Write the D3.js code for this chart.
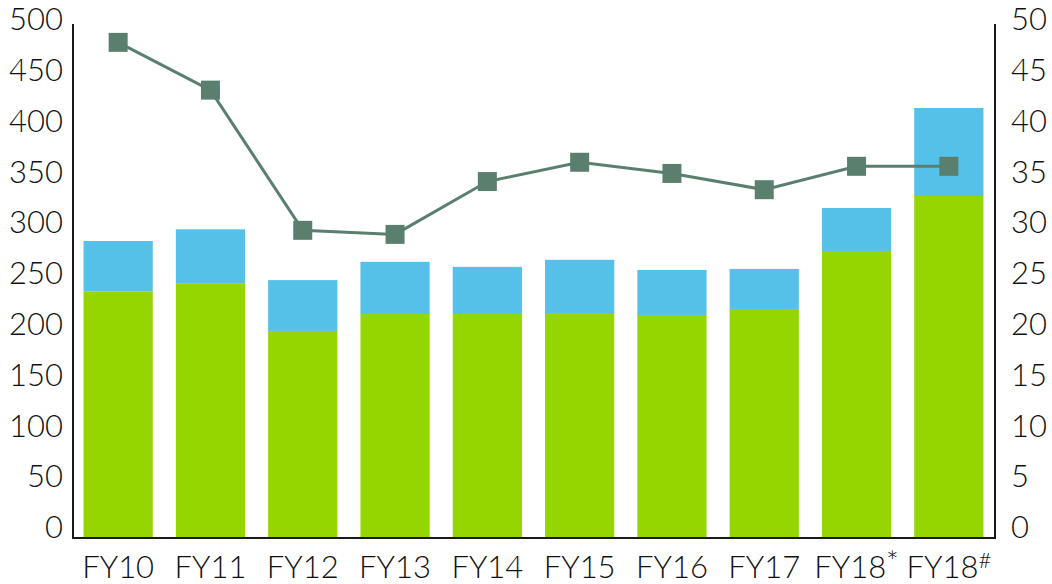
<!DOCTYPE html>
<html>
<head>
<meta charset="utf-8">
<script src="https://cdn.jsdelivr.net/npm/d3@7"></script>
<style>
  html, body { margin: 0; padding: 0; background: #fff; }
  svg { display: block; }
  text { font-family: Lato, "Open Sans", sans-serif; font-weight: 300; fill: #111; }
</style>
</head>
<body>
<svg id="chart" width="1052" height="584"></svg>
<script>
// ---- data ----
const categories = ["FY10","FY11","FY12","FY13","FY14","FY15","FY16","FY17","FY18","FY18"];
const categorySup = ["","","","","","","","","*","#"];
const greenValues = [232, 240, 193, 209.6, 209.6, 210.6, 208.7, 214.6, 271.7, 325.8];
const blueValues  = [49.5, 53, 50, 51.4, 46.4, 52.4, 44.3, 39.4, 42.3, 86.6];
const lineValues  = [47.7, 43.0, 29.2, 28.8, 34.0, 35.9, 34.8, 33.2, 35.5, 35.5];
const leftTicks  = [0, 50, 100, 150, 200, 250, 300, 350, 400, 450, 500];
const rightTicks = [0, 5, 10, 15, 20, 25, 30, 35, 40, 45, 50];

// ---- layout ----
const svg = d3.select("#chart");
const plotLeft = 73, plotRight = 995, plotTop = 24, baseline = 538;

const x = d3.scaleBand()
  .domain(d3.range(categories.length))
  .range([72, 995])
  .paddingInner(0.25)
  .paddingOuter(0.125);

const yL = d3.scaleLinear().domain([0, 500]).range([527, 19]);
const yR = d3.scaleLinear().domain([0, 50]).range([527, 19]);

const green = "#95D600", blue = "#55C1E8", lineCol = "#5B7F6F";

// bars
const g = svg.append("g");
g.selectAll("rect.green").data(greenValues).join("rect")
  .attr("class","green")
  .attr("x", (d,i) => x(i))
  .attr("width", x.bandwidth())
  .attr("y", d => yL(d))
  .attr("height", d => baseline - yL(d))
  .attr("fill", green);

g.selectAll("rect.blue").data(blueValues).join("rect")
  .attr("class","blue")
  .attr("x", (d,i) => x(i))
  .attr("width", x.bandwidth())
  .attr("y", (d,i) => yL(greenValues[i] + d))
  .attr("height", (d,i) => yL(greenValues[i]) - yL(greenValues[i] + d))
  .attr("fill", blue);

// axes lines
const axisCol = "#1a1a1a";
svg.append("line").attr("x1", plotLeft).attr("x2", plotLeft).attr("y1", plotTop).attr("y2", baseline + 1)
  .attr("stroke", axisCol).attr("stroke-width", 2);
svg.append("line").attr("x1", plotRight).attr("x2", plotRight).attr("y1", plotTop).attr("y2", baseline + 1)
  .attr("stroke", axisCol).attr("stroke-width", 2);
svg.append("line").attr("x1", plotLeft).attr("x2", plotRight).attr("y1", baseline).attr("y2", baseline)
  .attr("stroke", axisCol).attr("stroke-width", 2);

// line series
const cx = i => x(i) + x.bandwidth() / 2;
const line = d3.line().x((d,i) => cx(i)).y(d => yR(d));
svg.append("path").datum(lineValues)
  .attr("d", line)
  .attr("fill", "none")
  .attr("stroke", lineCol)
  .attr("stroke-width", 3);

const ms = 19;
svg.selectAll("rect.marker").data(lineValues).join("rect")
  .attr("class","marker")
  .attr("x", (d,i) => cx(i) - ms/2)
  .attr("y", d => yR(d) - ms/2)
  .attr("width", ms).attr("height", ms)
  .attr("fill", lineCol);

// tick labels
const fs = 31;
svg.selectAll("text.lt").data(leftTicks).join("text")
  .attr("class","lt")
  .attr("x", 63)
  .attr("y", d => yL(d))
  .attr("dy", "0.36em")
  .attr("text-anchor", "end")
  .style("font-size", fs + "px")
  .text(d => d);

svg.selectAll("text.rt").data(rightTicks).join("text")
  .attr("class","rt")
  .attr("x", 1011)
  .attr("y", d => yR(d))
  .attr("dy", "0.36em")
  .attr("text-anchor", "start")
  .style("font-size", fs + "px")
  .text(d => d);

const xl = svg.selectAll("text.xt").data(categories).join("text")
  .attr("class","xt")
  .attr("x", (d,i) => cx(i))
  .attr("y", 578)
  .attr("text-anchor", "middle")
  .style("font-size", fs + "px");
xl.append("tspan").text(d => d);
xl.append("tspan")
  .attr("dy", (d,i) => categorySup[i] === "*" ? -6 : (categorySup[i] ? -10 : 0))
  .style("font-size", (d,i) => categorySup[i] === "*" ? "30px" : "22px")
  .text((d,i) => categorySup[i]);
</script>
</body>
</html>
